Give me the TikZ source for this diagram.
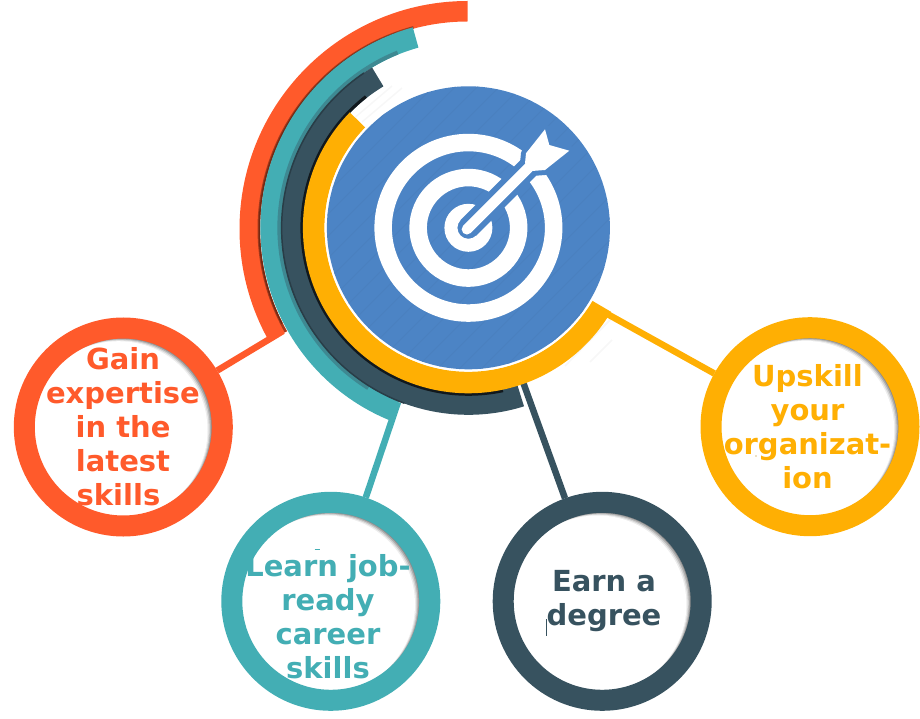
\documentclass[tikz,border=0pt]{standalone}
\usepackage{fontspec}
\setmainfont{DejaVu Sans}
\usetikzlibrary{calc}
\definecolor{cred}{HTML}{FF5A2B}
\definecolor{cteal}{HTML}{43AEB4}
\definecolor{cdark}{HTML}{37525F}
\definecolor{cyel}{HTML}{FFAF03}
\definecolor{cblue}{HTML}{4C84C5}
% y axis points down, so a screen angle a is written -a
\newcommand{\annul}[6][T]{% centre, colour, r out, r in, start, end
  \fill[#2] ($(#1)+(-#5:#3)$) arc[start angle=-#5,end angle=-#6,radius=#3] -- ($(#1)+(-#6:#4)$) arc[start angle=-#6,end angle=-#5,radius=#4] -- cycle;}
\newcommand{\disc}[1]{% centre coordinates
  \fill[black!45] (#1) circle[radius=90];
  \fill[black!32] ($(#1)+(-1.2,0.8)$) circle[radius=89];
  \fill[black!18] ($(#1)+(-2.4,1.6)$) circle[radius=89];
  \fill[black!7] ($(#1)+(-3.6,2.4)$) circle[radius=89];
  \fill[white] ($(#1)+(-4.8,3.2)$) circle[radius=89];}
\tikzset{
  ring/.style={circle,draw=#1,line width=21pt,minimum size=198pt,inner sep=0pt,fill=none},
  lbl/.style={text=#1,font=\fontsize{29}{34}\bfseries\selectfont,align=center,inner sep=0pt},
  conn/.style={draw=#1,line width=6.5pt}
}
\begin{document}
\begin{tikzpicture}[x=1pt,y=-1pt]
\useasboundingbox (0,0) rectangle (920,719);
\coordinate (T) at (468.4,227.8);
\coordinate (Tr) at (467.5,229);
% faint stripes at the corners of the target picture
\foreach \a/\b/\c/\d in {352/120/392/86,362/122/402/88,578/352/610/320,590/362/612/340,565/366/612/318,600/330/612/318}{
  \draw[black!3,line width=1.5pt] (\a,\b) -- (\c,\d);}
% white discs with inner shadow
\disc{123.3,427}
\disc{330.8,601.3}
\disc{602.2,601.3}
\disc{810,426.7}
% rings
\node[ring=cred] (nr) at (123.3,427) {};
\node[ring=cteal] (nt) at (330.8,601.3) {};
\node[ring=cdark] (nk) at (602.2,601.3) {};
\node[ring=cyel] (ny) at (810,426.7) {};
% connector free ends
\coordinate (ar) at (283,331);
\coordinate (at) at (398,402);
\coordinate (ak) at (523,382);
\coordinate (ay) at (603,311.6);
\draw[conn=cred] (nr) -- (ar);
\draw[conn=cteal] (nt) -- (at);
\draw[conn=cdark] (nk) -- (ak);
\draw[conn=cyel] (ny) -- (ay);
% arcs
\annul[Tr]{cred}{228}{207.5}{90}{209.5}
\annul[Tr]{cred!65!black}{210}{207.5}{105}{209.5}
\annul[Tr]{cred!45!black}{209}{207.5}{110}{207}
\annul{cteal}{208}{187}{105.5}{248}
\annul{cteal!60!cdark}{191}{187}{112}{238}
\annul{cdark}{187}{165}{121}{287.3}
\annul{cdark!75!black}{187.5}{186}{124}{250}
\annul{black!70!cdark}{168}{165}{128}{282}
\annul{cyel}{165.5}{144}{135.8}{329.5}
% target
\fill[white] (T) circle[radius=143.5];
\fill[cblue] (T) circle[radius=141.5];
\begin{scope}
\clip (T) circle[radius=141.5];
\foreach \k in {-12,...,12}{
  \draw[cblue!97!black,line width=0.8pt] ($(T)+(\k*11,\k*11)+(-150,150)$) -- ++(300,-300);}
\end{scope}
\foreach \r/\i in {94/76.5,59/41.5,24/11}{
  \fill[white,even odd rule] (T) circle[radius=\r] (T) circle[radius=\i];}
\draw[cblue,line width=22pt] (T) -- ($(T)+(-45:85)$);
\path (526,153.3) coordinate (f1) (545,129.3) coordinate (f2) (549.3,145) coordinate (f3)
      (569.3,150.7) coordinate (f4) (545,170) coordinate (f5) (531.7,171) coordinate (f6) (525,163.3) coordinate (f7);
\draw[cblue,line width=10pt,line join=round,fill=cblue] (f1) -- (f2) -- (f3) -- (f4) -- (f5) -- (f6) -- (f7) -- cycle;
\draw[white,line width=10.5pt,line cap=round] ($(T)+(-1.5,1.5)$) -- ($(T)+(-45:85)$);
\fill[white] (f1) -- (f2) -- (f3) -- (f4) -- (f5) -- (f6) -- (f7) -- cycle;
% labels
\node[lbl=cred] (lr) at (123,427) {Gain\\expertise\\in the\\latest\\skills\hspace*{9pt}};
\node[lbl=cteal] (lt) at (328,617) {Learn job-\\ready\\career\\skills};
\node[lbl=cdark] (lk) at (604,601) {Earn a\\degree};
\node[lbl=cyel] (ly) at (807.5,427) {Upskill\\your\\organizat-\\ion};
% small specks
\draw[cteal,line width=1pt] (314.5,549.5) -- (319.5,549.5);
\draw[cdark,line width=1.2pt] (546.8,619) -- (546.8,635.5);
\fill[cyel!70!black] (756,456) circle[radius=0.7];
\end{tikzpicture}
\end{document}
